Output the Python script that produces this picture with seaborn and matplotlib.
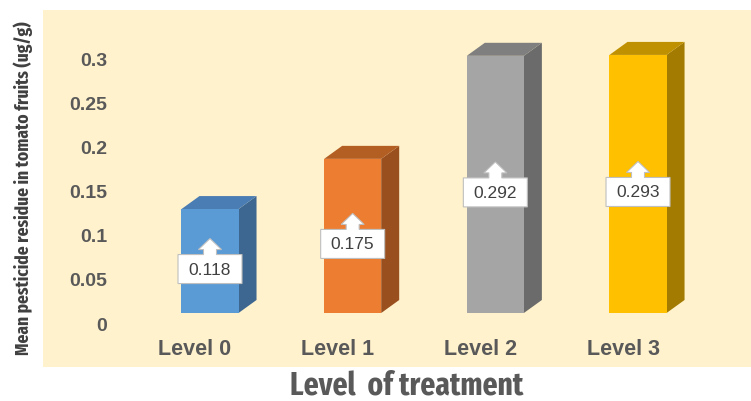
import matplotlib
matplotlib.use("Agg")
import matplotlib.pyplot as plt
import matplotlib.transforms as mtransforms
from matplotlib.patches import Polygon
import seaborn as sns

levels = ["Level 0", "Level 1", "Level 2", "Level 3"]
residue = [0.118, 0.175, 0.292, 0.293]
value_labels = ["0.118", "0.175", "0.292", "0.293"]
y_ticks = [0, 0.05, 0.1, 0.15, 0.2, 0.25, 0.3]
y_tick_labels = ["0", "0.05", "0.1", "0.15", "0.2", "0.25", "0.3"]
y_title = "Mean pesticide residue in tomato fruits (ug/g)"
x_title = "Level  of treatment"

front_colors = ["#5B9BD5", "#ED7D31", "#A5A5A5", "#FFC000"]
top_colors = ["#4A7DB3", "#B35F24", "#7F7F7F", "#BF9000"]
side_colors = ["#3D6790", "#9A4F1E", "#6B6B6B", "#A27B00"]

sns.set_theme(style="white")
plt.rcParams["font.family"] = ["Liberation Sans", "DejaVu Sans"]
COND = ["Fira Sans Extra Condensed", "Barlow Condensed", "DejaVu Sans"]

W, H, DPI = 751, 402, 100
fig = plt.figure(figsize=(W / DPI, H / DPI), dpi=DPI, facecolor="white")
ax = fig.add_axes([43 / W, (H - 368) / H, 708 / W, 357 / H])
ax.set_facecolor("#FFF2CC")

sns.barplot(x=levels, y=residue, hue=levels, palette=front_colors, width=0.4,
            saturation=1, legend=False, ax=ax, zorder=3, linewidth=0)

ax.set_xlim(-1.1705, 3.792)
ax.set_ylim(-0.0613, 0.344)
for s in ax.spines.values():
    s.set_visible(False)

# 3D sides and tops (depth offset in pixels)
DX, DY = 18, 13
fig.canvas.draw()
for patch, tc, sc in zip(ax.patches[:4], top_colors, side_colors):
    x0, y0 = patch.get_x(), patch.get_y()
    x1, y1 = x0 + patch.get_width(), y0 + patch.get_height()
    (px0, py0), (px1, py1) = ax.transData.transform([(x0, y0), (x1, y1)])
    side = [(px1, py0), (px1 + DX, py0 + DY), (px1 + DX, py1 + DY), (px1, py1)]
    top = [(px0, py1), (px1, py1), (px1 + DX, py1 + DY), (px0 + DX, py1 + DY)]
    ax.add_patch(Polygon(side, closed=True, transform=None, facecolor=sc, edgecolor="none", zorder=2))
    ax.add_patch(Polygon(top, closed=True, transform=None, facecolor=tc, edgecolor="none", zorder=2))


def px(v):
    return v / DPI


# callout data labels
shape = [(-32, -22.5), (32, -22.5), (32, 6.5), (6.5, 6.5), (6.5, 11.5), (11.5, 11.5),
         (0, 22.5), (-11.5, 11.5), (-6.5, 11.5), (-6.5, 6.5), (-32, 6.5)]
for i, (v, lab) in enumerate(zip(residue, value_labels)):
    tr = fig.dpi_scale_trans + mtransforms.ScaledTranslation(i, v / 2, ax.transData)
    ax.add_patch(Polygon([(px(a), px(b)) for a, b in shape], closed=True, transform=tr,
                         facecolor="white", edgecolor="#BFBFBF", linewidth=0.8, zorder=5))
    ax.text(0, px(-8), lab, transform=tr, ha="center", va="center", fontsize=12.5,
            color="#404040", zorder=6)

# y ticks
ax.set_yticks(y_ticks)
ax.set_yticklabels(y_tick_labels)
ax.tick_params(axis="y", length=0, pad=-64 * 0.72, labelsize=14, labelcolor="#595959")
for t in ax.get_yticklabels():
    t.set_fontweight("bold")
    t.set_transform(t.get_transform() + mtransforms.ScaledTranslation(0, px(-10), fig.dpi_scale_trans))

# x ticks
ax.set_xticks(range(len(levels)))
ax.set_xticklabels(levels)
ax.tick_params(axis="x", length=0, pad=0, labelsize=15.5, labelcolor="#595959")
for t in ax.get_xticklabels():
    t.set_fontweight("bold")
    t.set_transform(t.get_transform() + mtransforms.ScaledTranslation(px(-15), px(29), fig.dpi_scale_trans))
ax.set_xlabel("")
ax.set_ylabel("")

fig.text(23 / W, 1 - 188.5 / H, y_title, rotation=90, ha="center", va="center",
         fontsize=13.6, fontweight="bold", color="#404040", family=COND)
fig.text(407 / W, (H - 395) / H, x_title, ha="center", va="baseline",
         fontsize=23, fontweight="bold", color="#595959", family=COND)

fig.savefig("out.png", dpi=DPI, facecolor="white")
